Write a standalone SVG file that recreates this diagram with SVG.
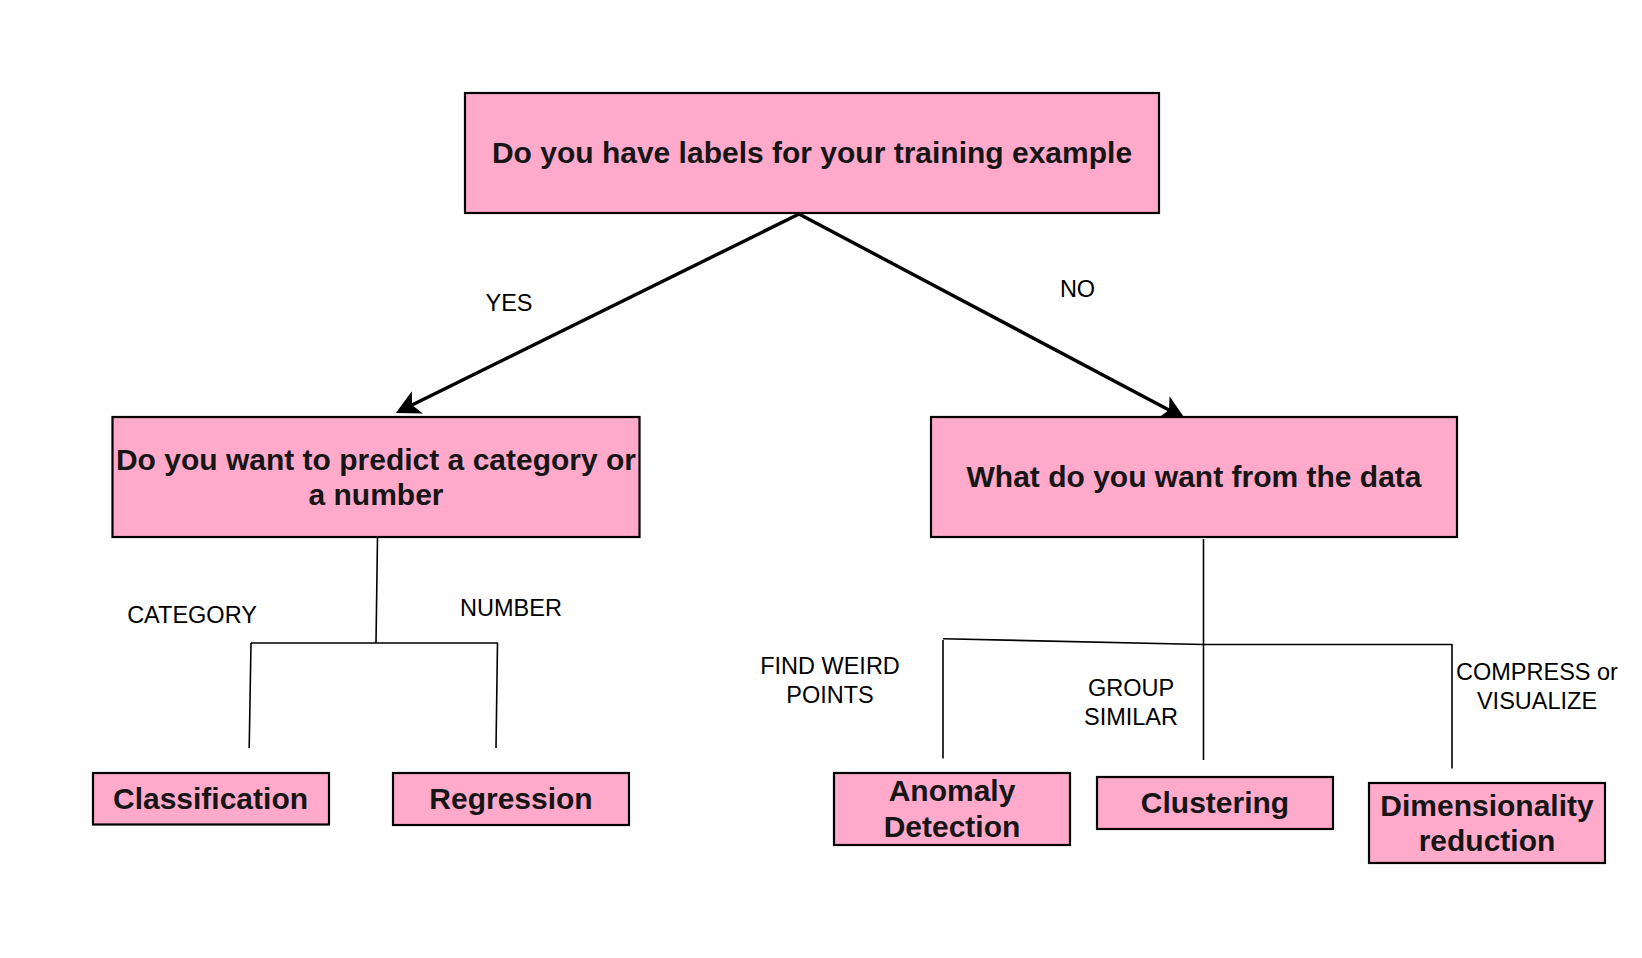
<svg xmlns="http://www.w3.org/2000/svg" width="1642" height="958" viewBox="0 0 1642 958">
<style>
.box{fill:#ffaacb;stroke:#000;stroke-width:2.2}
.bt{font-family:"Liberation Sans",Arial,sans-serif;font-weight:bold;font-size:30px;fill:#161616;text-anchor:middle}
.lt{font-family:"Liberation Sans",Arial,sans-serif;font-size:23.5px;fill:#000;text-anchor:middle}
.thin{fill:none;stroke:#000;stroke-width:1.6}
.arrow{fill:none;stroke:#000;stroke-width:3.4}
</style>
<defs>
<marker id="arr" markerUnits="userSpaceOnUse" markerWidth="32" markerHeight="32" refX="6" refY="12.5" orient="auto">
<path d="M0,0 L24,12.5 L0,25 L6,12.5 Z" fill="#000"/>
</marker>
</defs>
<rect width="1642" height="958" fill="#fff"/>
<g id="connectors">
<line class="arrow" x1="799" y1="214" x2="412" y2="405" marker-end="url(#arr)"/>
<line class="arrow" x1="799" y1="214" x2="1169" y2="410" marker-end="url(#arr)"/>
<text class="lt" x="509" y="311">YES</text>
<text class="lt" x="1077.5" y="297">NO</text>
<path class="thin" d="M377.5,537 L376,643 M251,643 L498,643 M251,643 L249.2,748 M497.5,643 L496,748"/>
<text class="lt" x="192" y="623">CATEGORY</text>
<text class="lt" x="511" y="616">NUMBER</text>
<path class="thin" d="M1203.5,539 L1203.5,760 M943,638.7 L1203.5,644.5 L1452,644.5 M943,640 L943,758.5 M1452,644 L1452,768.5"/>
<text class="lt" x="830"><tspan x="830" y="674">FIND WEIRD</tspan><tspan x="830" y="702.5">POINTS</tspan></text>
<text class="lt" x="1131"><tspan x="1131" y="696">GROUP</tspan><tspan x="1131" y="724.5">SIMILAR</tspan></text>
<text class="lt" x="1537"><tspan x="1537" y="680">COMPRESS or</tspan><tspan x="1537" y="708.5">VISUALIZE</tspan></text>
</g>
<g id="n-labels">
<rect class="box" x="465" y="93" width="694" height="120"/>
<text class="bt" x="812" y="163">Do you have labels for your training example</text>
</g>
<g id="n-predict">
<rect class="box" x="112.5" y="417" width="527" height="120"/>
<text class="bt"><tspan x="376" y="469.5">Do you want to predict a category or</tspan><tspan x="376" y="504.5">a number</tspan></text>
</g>
<g id="n-want">
<rect class="box" x="931" y="417" width="526" height="120"/>
<text class="bt" x="1194" y="487">What do you want from the data</text>
</g>
<g id="n-classification">
<rect class="box" x="93" y="773" width="236" height="51.5"/>
<text class="bt" x="210.5" y="808.5">Classification</text>
</g>
<g id="n-regression">
<rect class="box" x="393" y="773" width="236" height="52"/>
<text class="bt" x="511" y="808.5">Regression</text>
</g>
<g id="n-anomaly">
<rect class="box" x="834" y="773" width="236" height="72"/>
<text class="bt"><tspan x="952" y="801">Anomaly</tspan><tspan x="952" y="836.5">Detection</tspan></text>
</g>
<g id="n-clustering">
<rect class="box" x="1097" y="777" width="236" height="52"/>
<text class="bt" x="1215" y="813">Clustering</text>
</g>
<g id="n-dimensionality">
<rect class="box" x="1369" y="783" width="236" height="80"/>
<text class="bt"><tspan x="1487" y="815.5">Dimensionality</tspan><tspan x="1487" y="851">reduction</tspan></text>
</g>
</svg>
